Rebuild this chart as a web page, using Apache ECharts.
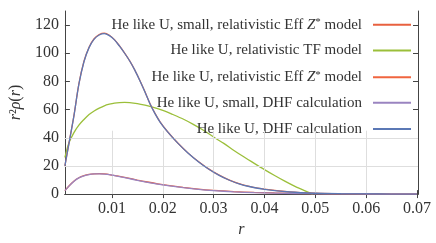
<!DOCTYPE html>
<html>
<head>
<meta charset="utf-8">
<script src="https://cdn.jsdelivr.net/npm/echarts@6/dist/echarts.min.js"></script>
<style>html,body{margin:0;padding:0;background:#fff}#c{width:436px;height:243px}</style>
</head>
<body>
<div id="c"></div>
<script>
// ---- data ----
var seriesNames = [
  'He like U, small, relativistic Eff Z* model',
  'He like U, relativistic TF model',
  'He like U, relativistic Eff Z* model',
  'He like U, small, DHF calculation',
  'He like U, DHF calculation'
];
var legendLabels = [
  'He like U, small, relativistic Eff {i|Z}{s|*} model',
  'He like U, relativistic TF model',
  'He like U, relativistic Eff {i|Z}{s|*} model',
  'He like U, small, DHF calculation',
  'He like U, DHF calculation'
];
var xTicks = [0.01, 0.02, 0.03, 0.04, 0.05, 0.06, 0.07];
var yTicks = [0, 20, 40, 60, 80, 100, 120];
var gridX = [0.01, 0.02, 0.03, 0.04, 0.05, 0.06];
var gridY = [20, 40];
var gridXTop = 45;

var rBlue = [0.00075,0.0015,0.0025,0.0035,0.0045,0.0055,0.0065,0.0075,0.0085,0.0095,0.0105,0.0115,0.0125,0.0135,0.0145,0.0155,0.0165,0.0175,0.0185,0.0195,0.021,0.023,0.025,0.027,0.029,0.031,0.033,0.035,0.037,0.040,0.045,0.050,0.055,0.060,0.065,0.070];
var vBlue = [20,35,55,78,94,104,110,113,114,112.5,109.5,105,100,94.5,88,80.5,72.5,64,57,51,44,36,29,23,17.8,13.5,10,7.3,5.4,3.4,1.5,0.6,0.25,0.1,0.04,0];
var vRed  = [20,35.1,55.2,78.2,94.3,104.3,110.3,113.3,114.3,112.8,109.7,105.2,100.1,94.6,88.1,80.6,72.6,64.1,57.1,51.1,44.1,36.1,29.1,23.1,17.9,13.6,10.1,7.4,5.5,3.5,1.6,0.7,0.3,0.12,0.05,0];

var rPurple = [0.00075,0.0015,0.0025,0.0035,0.0045,0.0055,0.0065,0.0075,0.0085,0.0095,0.011,0.013,0.015,0.017,0.019,0.021,0.024,0.027,0.030,0.034,0.038,0.042,0.046,0.050,0.055,0.060,0.065,0.070];
var vPurple = [2.5,5.5,9,11.5,13,13.9,14.3,14.4,14.2,13.8,12.8,11.3,9.8,8.4,7.1,6.0,4.6,3.4,2.5,1.6,1.0,0.65,0.4,0.25,0.13,0.07,0.03,0.01];
var vRedSmall = [2.5,5.6,9.1,11.6,13.1,14,14.4,14.5,14.3,13.9,12.9,11.5,10,8.6,7.3,6.2,4.8,3.6,2.7,1.8,1.2,0.8,0.5,0.32,0.18,0.1,0.05,0.02];

var rGreen = [0.00075,0.0015,0.0025,0.0035,0.0045,0.0055,0.0065,0.0075,0.0085,0.0095,0.0105,0.0115,0.0125,0.0135,0.015,0.0165,0.018,0.020,0.022,0.024,0.026,0.028,0.030,0.032,0.034,0.036,0.038,0.040,0.042,0.044,0.046,0.048,0.049,0.0495];
var vGreen = [26,36,43.5,49,53,56.5,59,61,62.7,63.8,64.6,65,65.1,65,64.3,63.2,61.8,59.5,56.5,53.3,49.5,45.3,40.5,36,31,26.3,21.8,17.4,13.2,9.2,5.5,2.3,0.8,0];

function pairs(r, v) { return r.map(function (x, i) { return [x, v[i]]; }); }

var colors = ['#E8613F', '#9BBF3A', '#F0653F', '#9A84C0', '#5B78B5'];
var seriesData = [pairs(rPurple, vRedSmall), pairs(rGreen, vGreen), pairs(rBlue, vRed), pairs(rPurple, vPurple), pairs(rBlue, vBlue)];

var SERIF = 'Liberation Serif, serif';
var AX = '#444';
var TXT = '#333';
var legendCenters = [23.3, 49.5, 75.7, 101.8, 128];

var markData = gridY.map(function (y) { return { yAxis: y }; }).concat(
  gridX.map(function (x) { return [{ coord: [x, 0] }, { coord: [x, gridXTop] }]; })
);

var series = [{
  type: 'line', data: [], z: 1, silent: true,
  markLine: {
    silent: true, symbol: ['none', 'none'], label: { show: false },
    lineStyle: { color: '#dedede', width: 1, type: 'solid' },
    emphasis: { disabled: true }, animation: false,
    data: markData
  }
}];
seriesNames.forEach(function (n, i) {
  series.push({
    name: n, type: 'line', data: seriesData[i], z: 2 + i,
    showSymbol: false, smooth: 0.3, color: colors[i],
    lineStyle: { width: 1.3, color: colors[i] }
  });
});

var legends = seriesNames.map(function (n, i) {
  return {
    data: [n], orient: 'vertical', align: 'right', right: 25, top: legendCenters[i] - 6.5,
    padding: 0, icon: 'rect', itemWidth: 38, itemHeight: 2, selectedMode: false,
    formatter: function () { return legendLabels[i]; },
    textStyle: {
      fontFamily: SERIF, fontSize: 15, color: TXT, padding: [0, 6, 0, 0],
      rich: {
        i: { fontFamily: SERIF, fontSize: 15, fontStyle: 'italic', color: TXT },
        s: { fontFamily: SERIF, fontSize: 11, color: TXT, padding: [0, 0, 5, 0] }
      }
    }
  };
});

var xBase = { type: 'value', min: 0.00075, max: 0.0702, splitLine: { show: false } };
var yBase = { type: 'value', min: 0, max: 130, splitLine: { show: false } };

var chart = echarts.init(document.getElementById('c'), null, { renderer: 'canvas' });
chart.setOption({
  animation: false,
  textStyle: { fontFamily: SERIF },
  grid: { left: 55, right: 18, top: 11, bottom: 31, containLabel: false },
  legend: legends,
  xAxis: [
    Object.assign({}, xBase, {
      position: 'bottom',
      name: 'r', nameLocation: 'middle', nameGap: 16,
      nameTextStyle: { fontFamily: SERIF, fontSize: 16, fontStyle: 'italic', color: TXT },
      axisLine: { lineStyle: { color: AX, width: 1 } },
      axisTick: { inside: true, length: 4, customValues: xTicks, lineStyle: { color: AX } },
      axisLabel: { customValues: xTicks, margin: 7, fontFamily: SERIF, fontSize: 16, color: TXT,
        formatter: function (v) { return v.toFixed(2); } }
    }),
    Object.assign({}, xBase, {
      position: 'top',
      axisLine: { lineStyle: { color: AX, width: 1 } },
      axisTick: { inside: true, length: 4, customValues: xTicks, lineStyle: { color: AX } },
      axisLabel: { show: false }
    })
  ],
  yAxis: [
    Object.assign({}, yBase, {
      position: 'left',
      name: '{i|r}{n|²}{i|ρ}{n|(}{i|r}{n|)}', nameLocation: 'middle', nameGap: 36, nameRotate: 90,
      nameTextStyle: {
        fontFamily: SERIF, fontSize: 16, color: TXT,
        rich: {
          i: { fontFamily: SERIF, fontSize: 16, fontStyle: 'italic', color: TXT },
          n: { fontFamily: SERIF, fontSize: 16, color: TXT }
        }
      },
      axisLine: { show: true, lineStyle: { color: AX, width: 1 } },
      axisTick: { show: true, inside: true, length: 5, customValues: yTicks, lineStyle: { color: AX } },
      axisLabel: { customValues: yTicks, margin: 6, fontFamily: SERIF, fontSize: 16, color: TXT }
    }),
    Object.assign({}, yBase, {
      position: 'right',
      axisLine: { show: true, lineStyle: { color: AX, width: 1 } },
      axisTick: { show: true, inside: true, length: 5, customValues: yTicks, lineStyle: { color: AX } },
      axisLabel: { show: false }
    })
  ],
  series: series
});
</script>
</body>
</html>
